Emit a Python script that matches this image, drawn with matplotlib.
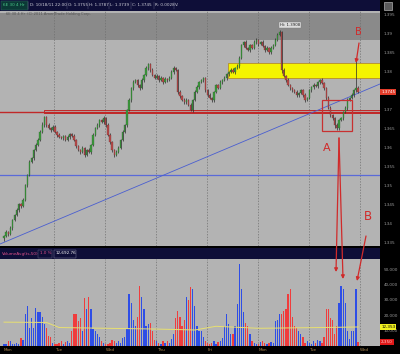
import numpy as np
import matplotlib
matplotlib.use('Agg')
import matplotlib.pyplot as plt
from matplotlib.patches import Rectangle, FancyArrowPatch
from matplotlib.transforms import blended_transform_factory

# ---------------- data (hourly bars, 7 sessions) ----------------
closes = [
    1.3366, 1.3377, 1.3371, 1.3387, 1.3408, 1.3421, 1.3434, 1.3450, 1.3445, 1.3461, 1.3500, 1.3527,
    1.3561, 1.3571, 1.3592, 1.3605, 1.3619, 1.3640, 1.3658, 1.3679, 1.3658, 1.3650, 1.3645, 1.3653,
    1.3640, 1.3632, 1.3627, 1.3624, 1.3629, 1.3619, 1.3627, 1.3634, 1.3629, 1.3619, 1.3603, 1.3592,
    1.3587, 1.3598, 1.3579, 1.3592, 1.3587, 1.3605, 1.3632, 1.3650, 1.3658, 1.3671, 1.3666, 1.3676,
    1.3658, 1.3632, 1.3613, 1.3592, 1.3579, 1.3587, 1.3598, 1.3619, 1.3640, 1.3658, 1.3698, 1.3724,
    1.3755, 1.3771, 1.3776, 1.3763, 1.3755, 1.3776, 1.3790, 1.3808, 1.3818, 1.3803, 1.3790, 1.3782,
    1.3787, 1.3776, 1.3782, 1.3771, 1.3779, 1.3776, 1.3782, 1.3797, 1.3808, 1.3803, 1.3745, 1.3734,
    1.3724, 1.3719, 1.3724, 1.3711, 1.3698, 1.3724, 1.3745, 1.3758, 1.3771, 1.3776, 1.3782, 1.3750,
    1.3737, 1.3729, 1.3724, 1.3745, 1.3763, 1.3755, 1.3771, 1.3776, 1.3782, 1.3792, 1.3797, 1.3803,
    1.3797, 1.3808, 1.3813, 1.3834, 1.3868, 1.3876, 1.3861, 1.3855, 1.3868, 1.3861, 1.3876, 1.3882,
    1.3871, 1.3876, 1.3866, 1.3855, 1.3861, 1.3850, 1.3861, 1.3868, 1.3882, 1.3895, 1.3903, 1.3803,
    1.3787, 1.3776, 1.3763, 1.3755, 1.3750, 1.3745, 1.3737, 1.3742, 1.3750, 1.3737, 1.3724, 1.3729,
    1.3750, 1.3758, 1.3763, 1.3761, 1.3771, 1.3776, 1.3768, 1.3755, 1.3729, 1.3703, 1.3684, 1.3676,
    1.3658, 1.3650, 1.3671, 1.3676, 1.3692, 1.3703, 1.3724, 1.3729, 1.3737, 1.3750, 1.3755, 1.3745,
]
first_open = 1.3360
up_wick_pips = [
    3, 4, 2, 5, 3, 4, 6, 3, 2, 5, 4, 3, 6, 4, 3, 5, 4, 6, 7, 3, 4, 5, 3, 4,
    4, 3, 5, 2, 4, 3, 6, 3, 4, 5, 2, 3, 4, 6, 3, 4, 5, 3, 4, 2, 5, 3, 4, 6,
    3, 5, 4, 2, 3, 6, 4, 3, 5, 4, 3, 6, 4, 5, 3, 4, 2, 5, 3, 6, 4, 3, 5, 2,
    4, 3, 5, 2, 4, 3, 5, 6, 4, 3, 2, 4, 3, 5, 4, 3, 6, 3, 4, 5, 3, 4, 2, 3,
    3, 5, 4, 2, 3, 4, 5, 3, 4, 2, 3, 5, 4, 3, 6, 5, 4, 3, 5, 2, 4, 3, 5, 4,
    3, 4, 5, 2, 4, 3, 5, 4, 6, 5, 5, 3, 4, 2, 5, 3, 4, 3, 5, 2, 4, 3, 5, 3,
    4, 3, 5, 2, 4, 3, 5, 4, 3, 5, 4, 3, 4, 5, 3, 4, 3, 5, 4, 3, 5, 4, 79, 6,
]
dn_wick_pips = [
    6, 3, 5, 2, 4, 3, 2, 5, 4, 3, 2, 5, 3, 4, 6, 3, 2, 4, 3, 5, 4, 3, 6, 3,
    3, 5, 2, 4, 6, 3, 2, 5, 3, 4, 6, 3, 5, 2, 4, 3, 2, 5, 3, 4, 3, 5, 2, 4,
    5, 3, 4, 6, 5, 2, 3, 4, 3, 2, 4, 3, 5, 4, 3, 6, 4, 2, 5, 3, 4, 6, 3, 4,
    3, 4, 2, 5, 3, 4, 3, 2, 5, 3, 6, 4, 3, 5, 6, 4, 3, 5, 3, 2, 4, 3, 5, 4,
    4, 3, 5, 6, 4, 3, 2, 4, 3, 5, 4, 3, 2, 4, 3, 6, 3, 5, 4, 3, 6, 4, 3, 5,
    5, 3, 4, 6, 3, 5, 4, 3, 2, 4, 3, 8, 4, 5, 3, 4, 6, 3, 4, 5, 3, 6, 5, 4,
    3, 5, 4, 3, 5, 4, 3, 6, 5, 4, 6, 5, 7, 4, 5, 3, 4, 3, 5, 4, 3, 4, 5, 3,
]
volume_k = [
    1.3, 1.0, 3, 3.5, 1.5, 1.2, 2, 1.5, 5, 4, 21, 26, 12, 18, 12, 25, 22, 22, 19, 14, 12, 6.5, 6, 2,
    1.5, 1, 2, 3, 1.5, 2.5, 3, 2, 10, 21, 21, 16, 18, 10, 31, 24, 32, 24, 11, 10, 8, 6, 3, 2,
    1.5, 1, 2, 4, 3, 2, 3.5, 2, 5, 6, 11, 34, 28, 17, 13, 19, 39, 32, 24, 13, 14, 15, 10, 4,
    3, 2, 1.5, 3, 2, 3.5, 2, 4.5, 8, 18, 23, 19, 13, 17, 32, 30, 38, 37, 26, 13, 10, 10, 6, 3,
    2, 1.5, 2, 3, 1, 2.5, 3, 5, 13, 21, 14, 8, 8, 13, 27, 53, 37, 22, 15, 13, 8, 3, 2, 1.5,
    1, 2.5, 3, 2, 1.5, 2, 2.5, 2, 16, 17, 21, 21, 23, 24, 34, 37, 19, 13, 12, 10, 8, 6, 2, 3,
    2, 1.5, 3, 2, 4, 3, 2, 6, 24, 24, 18, 17, 8, 13, 28, 39, 37, 28, 10, 4.5, 10, 10, 37, 2.35,
]
vol_avg_x = [0, 20, 26, 48, 72, 90, 100, 120, 150, 167]
vol_avg_k = [15.5, 15.3, 12.0, 11.5, 11.0, 10.4, 12.8, 11.5, 12.0, 12.353]

day_labels = ['Mon', 'Tue', 'Wed', 'Thu', 'Fri', 'Mon', 'Tue', 'Wed']
bars_per_day = 24
price_ticks = [1.395, 1.39, 1.385, 1.38, 1.375, 1.37, 1.365, 1.36, 1.355, 1.35, 1.345, 1.34, 1.335]
vol_ticks_k = [10, 20, 30, 40, 50]

dark_zone = [1.3882, 1.3953]
yellow_zone = [1.3782, 1.3821]
yellow_start = 105.7
support_level = 1.3692
support_zone = [1.3690, 1.3697]
support_start = 19
blue_level = 1.3527
trend_x = [-1.9, 177.4]
trend_y = [1.3345, 1.3766]
box_a_x = [150, 164.2]
box_a_y = [1.3642, 1.3724]

# ---------------- derived OHLC ----------------
c = np.array(closes)
o = np.array([first_open] + closes[:-1])
hi = np.maximum(o, c) + np.array(up_wick_pips) * 0.0001
lo = np.minimum(o, c) - np.array(dn_wick_pips) * 0.0001
idx = np.arange(len(c))
up = c >= o

W, H = 400, 354
fig = plt.figure(figsize=(4.0, 3.54), dpi=100, facecolor='black')

def fx(x): return x / W
def fy(y): return 1 - y / H

BG = '#b3b3b3'
NAVY = '#0e0e38'

# header bar
fig.add_artist(Rectangle((0, fy(11)), fx(380), 11 / H, transform=fig.transFigure, fc=NAVY, ec='none'))
fig.add_artist(Rectangle((fx(1), fy(10)), fx(27), 9 / H, transform=fig.transFigure, fc='#0b3a36', ec='#3a6a6a', lw=0.3))
fig.text(fx(3), fy(5.5), '6E 30 4 Hr', fontsize=3, color='#4cc88a', va='center')
hdr = [(30, 'D: 10/18/11 22:00'), (68, 'O: 1.3755'), (89, 'H: 1.3787'), (110, 'L: 1.3739'),
       (132, 'C: 1.3745'), (155, 'R: 0.0028'), (175, 'V:')]
for x, t in hdr:
    fig.text(fx(x), fy(5.5), t, fontsize=3, color='#cfcfd8', va='center')
    fig.add_artist(plt.Line2D([fx(x - 1.5)] * 2, [fy(9), fy(2)], transform=fig.transFigure, color='#6a6a8a', lw=0.3))
fig.add_artist(Rectangle((fx(384), fy(10)), fx(8), 8 / H, transform=fig.transFigure, fc='#5a5a5a', ec='#cfcfcf', lw=0.4))

# ---------------- price panel ----------------
ax = fig.add_axes([0, fy(246), fx(380), (246 - 11) / H])
ax.set_facecolor(BG)
ax.set_xlim(-1.887, 177.36)
ax.set_ylim(1.33398, 1.39579)
for s in ax.spines.values():
    s.set_visible(False)

ax.axhspan(dark_zone[0], dark_zone[1], color='#8a8a8a', lw=0, zorder=0)
for k in range(1, len(day_labels)):
    ax.axvline(k * bars_per_day - 0.3, color='#707070', lw=0.5, ls=(0, (2, 2)), zorder=1)

ax.add_patch(Rectangle((yellow_start, yellow_zone[0]), 200, yellow_zone[1] - yellow_zone[0],
                       fc='#f4f400', ec='#b08020', lw=0.5, zorder=2))
ax.axhline(support_level, color='#c02828', lw=1.0, zorder=3)
ax.add_patch(Rectangle((support_start, support_zone[0]), 200, support_zone[1] - support_zone[0],
                       fc='none', ec='#c02828', lw=0.7, zorder=3))
ax.axhline(blue_level, color='#5a6ad8', lw=0.9, zorder=3)
ax.plot(trend_x, trend_y, color='#4a5ed0', lw=0.6, zorder=3)

body_w = 0.62
ax.vlines(idx, lo, hi, color='#2a2a2a', lw=0.5, zorder=4)
body_h = np.maximum(np.abs(c - o), 0.00012)
ax.bar(idx[up], body_h[up], bottom=np.minimum(o, c)[up], width=body_w, color='#3c9a3c',
       edgecolor='#2a5a2a', lw=0.2, zorder=5)
ax.bar(idx[~up], body_h[~up], bottom=np.minimum(o, c)[~up], width=body_w, color='#b84a4a',
       edgecolor='#6a2a2a', lw=0.2, zorder=5)

ax.add_patch(Rectangle((box_a_x[0], box_a_y[0]), box_a_x[1] - box_a_x[0], box_a_y[1] - box_a_y[0],
                       fc='none', ec='#c83030', lw=0.9, zorder=6))

pk = int(np.argmax(hi[:160]))
ax.text(pk, hi[pk] + 0.0008, f'Hi: {hi[pk]:.4f}', fontsize=2.8, color='#202020', ha='left', va='bottom',
        bbox=dict(boxstyle='square,pad=0.25', fc='#dcdcdc', ec='#808080', lw=0.3), zorder=7)
ax.text(1, 1.3950, '6E 30 4 Hr  (C) 2011 AmeriTrade Holding Corp.', fontsize=2.6, color='#555555',
        va='center', zorder=7)

ax.set_xticks([])
ax.yaxis.tick_right()
ax.set_yticks(price_ticks)
# the tick label under the last-price tag is hidden by the tag in the reference
ax.set_yticklabels(['' if abs(v - closes[-1]) < 0.0015 else f'{v:g}' for v in price_ticks])
ax.tick_params(axis='y', length=0, pad=2.5, labelsize=3, labelcolor='#9a9a9a')
tr = blended_transform_factory(ax.transAxes, ax.transData)
ax.text(1.003, closes[-1], f'{closes[-1]:.4f}', transform=tr, fontsize=3, color='white', va='center',
        ha='left', bbox=dict(boxstyle='square,pad=0.25', fc='#e23c2a', ec='none'), zorder=8)

# indicator header
fig.add_artist(Rectangle((0, fy(259)), fx(380), 11 / H, transform=fig.transFigure, fc=NAVY, ec='none'))
fig.text(fx(2), fy(253.5), 'VolumeAvg(ts,50)', fontsize=3, color='#e0508a', va='center')
fig.add_artist(Rectangle((fx(38), fy(257.5)), fx(14), 8 / H, transform=fig.transFigure, fc='none', ec='#6a6a8a', lw=0.3))
fig.text(fx(40), fy(253.5), '1.0 %', fontsize=3, color='#e0508a', va='center')
fig.add_artist(Rectangle((fx(54), fy(257.5)), fx(22), 8 / H, transform=fig.transFigure, fc='none', ec='#8a8aaa', lw=0.3))
fig.text(fx(56), fy(253.5), '12,692.76', fontsize=3, color='white', va='center')

# ---------------- volume panel ----------------
av = fig.add_axes([0, fy(346), fx(380), (346 - 259) / H])
av.set_facecolor(BG)
av.set_xlim(-1.887, 177.36)
av.set_ylim(0, 56500)
for s in av.spines.values():
    s.set_visible(False)
for k in range(1, len(day_labels)):
    av.axvline(k * bars_per_day - 0.3, color='#707070', lw=0.5, ls=(0, (2, 2)), zorder=1)
vol = np.array(volume_k) * 1000
av.bar(idx, vol, width=0.62, color=np.where(up, '#2e4ee6', '#f03c3c'), lw=0, zorder=3)
av.plot(vol_avg_x, np.array(vol_avg_k) * 1000, color='#e8e070', lw=0.7, zorder=4)

av.yaxis.tick_right()
av.set_yticks([v * 1000 for v in vol_ticks_k])
av.set_yticklabels([f'{v * 1000:,}' for v in vol_ticks_k])
av.tick_params(axis='y', length=0, pad=2.5, labelsize=3, labelcolor='#9a9a9a')
av.set_xticks([k * bars_per_day for k in range(len(day_labels))])
av.set_xticklabels(day_labels)
av.tick_params(axis='x', length=0, pad=1.5, labelsize=3, labelcolor='#b08a50')
for lbl in av.get_xticklabels():
    lbl.set_horizontalalignment('left')
trv = blended_transform_factory(av.transAxes, av.transData)
av.text(1.003, vol_avg_k[-1] * 1000, f'{vol_avg_k[-1] * 1000:,.0f}', transform=trv, fontsize=3, color='black',
        va='center', ha='left', bbox=dict(boxstyle='square,pad=0.25', fc='#f0f020', ec='none'), zorder=8)
av.text(1.003, vol[-1], f'{vol[-1]:,.0f}', transform=trv, fontsize=3, color='#ffd0d0',
        va='center', ha='left', bbox=dict(boxstyle='square,pad=0.25', fc='#e01818', ec='none'), zorder=8)

# ---------------- annotations (A / B arrows) ----------------
RED = '#d02a2a'
def arrow(p0, p1):
    fig.add_artist(FancyArrowPatch((fx(p0[0]), fy(p0[1])), (fx(p1[0]), fy(p1[1])),
                                   transform=fig.transFigure, arrowstyle='-|>', mutation_scale=5,
                                   color=RED, lw=0.9, shrinkA=0, shrinkB=0))
arrow((339, 138), (336, 272))
arrow((339, 138), (343, 279))
arrow((359, 43), (356, 63))
arrow((366, 236), (357, 281))
fig.text(fx(327), fy(148), 'A', fontsize=8, color=RED, ha='center', va='center')
fig.text(fx(358), fy(32), 'B', fontsize=7, color=RED, ha='center', va='center')
fig.text(fx(368), fy(217), 'B', fontsize=8.5, color=RED, ha='center', va='center')

fig.savefig('out.png', dpi=100, facecolor='black')
